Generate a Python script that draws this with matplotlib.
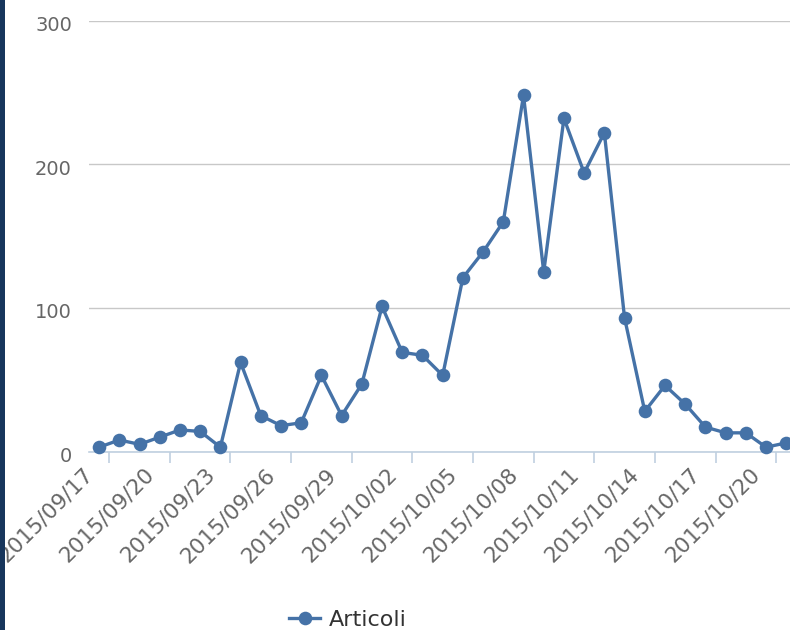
import matplotlib
matplotlib.use("Agg")
import matplotlib.pyplot as plt
import matplotlib.patches as mpatches

dates = ["2015/09/17", "2015/09/18", "2015/09/19", "2015/09/20", "2015/09/21", "2015/09/22",
         "2015/09/23", "2015/09/24", "2015/09/25", "2015/09/26", "2015/09/27", "2015/09/28",
         "2015/09/29", "2015/09/30", "2015/10/01", "2015/10/02", "2015/10/03", "2015/10/04",
         "2015/10/05", "2015/10/06", "2015/10/07", "2015/10/08", "2015/10/09", "2015/10/10",
         "2015/10/11", "2015/10/12", "2015/10/13", "2015/10/14", "2015/10/15", "2015/10/16",
         "2015/10/17", "2015/10/18", "2015/10/19", "2015/10/20", "2015/10/21"]
articoli = [3, 8, 5, 10, 15, 14, 3, 62, 25, 18, 20, 53, 25, 47, 101, 69, 67, 53,
            121, 139, 160, 248, 125, 232, 194, 222, 93, 28, 46, 33, 17, 13, 13, 3, 6]
y_ticks = [0, 100, 200, 300]
series_name = "Articoli"

W, H = 790, 630
PX = 0.72  # points per pixel at dpi 100
fig = plt.figure(figsize=(W / 100, H / 100), dpi=100)
fig.patch.set_facecolor("white")

# dark left bar of the page
fig.add_artist(mpatches.Rectangle((0, 0), 5 / W, 1, transform=fig.transFigure,
                                  facecolor="#17365c", edgecolor="none", zorder=10))

left = 89 / W
bottom = (H - 451.5) / H
top = (H - 20.7) / H
width = 35 * 20.21 / W
ax = fig.add_axes([left, bottom, width, top - bottom])

x = list(range(len(dates)))
ax.plot(x, articoli, color="#4572A7", linewidth=2.4, marker="o", markersize=9.8,
        markeredgewidth=0, label=series_name, clip_on=False, zorder=5)

ax.set_xlim(-0.5, len(dates) - 0.5)
ax.set_ylim(0, 300)

for s in ["top", "right", "left"]:
    ax.spines[s].set_visible(False)
ax.spines["bottom"].set_color("#C0D0E0")
ax.spines["bottom"].set_linewidth(1.2)

ax.set_yticks(y_ticks)
ax.yaxis.grid(True, color="#C8C8C8", linewidth=1.0)
ax.set_axisbelow(True)
ax.tick_params(axis="y", length=0, labelleft=False)
for v in y_ticks:
    ax.annotate(str(v), xy=(0, v), xycoords=("axes fraction", "data"),
                xytext=(-17 * PX, -5 * PX), textcoords="offset points",
                ha="right", va="center", fontsize=14, color="#666666",
                annotation_clip=False)

label_idx = list(range(0, len(dates), 3))
ax.set_xticks([i + 0.5 for i in label_idx])
ax.tick_params(axis="x", which="major", length=8, width=1.2, color="#C0D0E0",
               direction="out", labelbottom=False)
for i in label_idx:
    ax.annotate(dates[i], xy=(i, 0), xycoords=("data", "axes fraction"),
                xytext=(-9 * PX, -20 * PX), textcoords="offset points",
                rotation=45, rotation_mode="anchor", ha="right", va="center",
                fontsize=15.5, color="#666666", annotation_clip=False)

leg = ax.legend(loc="center", bbox_to_anchor=(348 / W, (H - 620) / H),
                bbox_transform=fig.transFigure, frameon=False, fontsize=16,
                handlelength=1.4, handletextpad=0.4, labelcolor="#333333")

fig.savefig("out.png", dpi=100, facecolor="white")
